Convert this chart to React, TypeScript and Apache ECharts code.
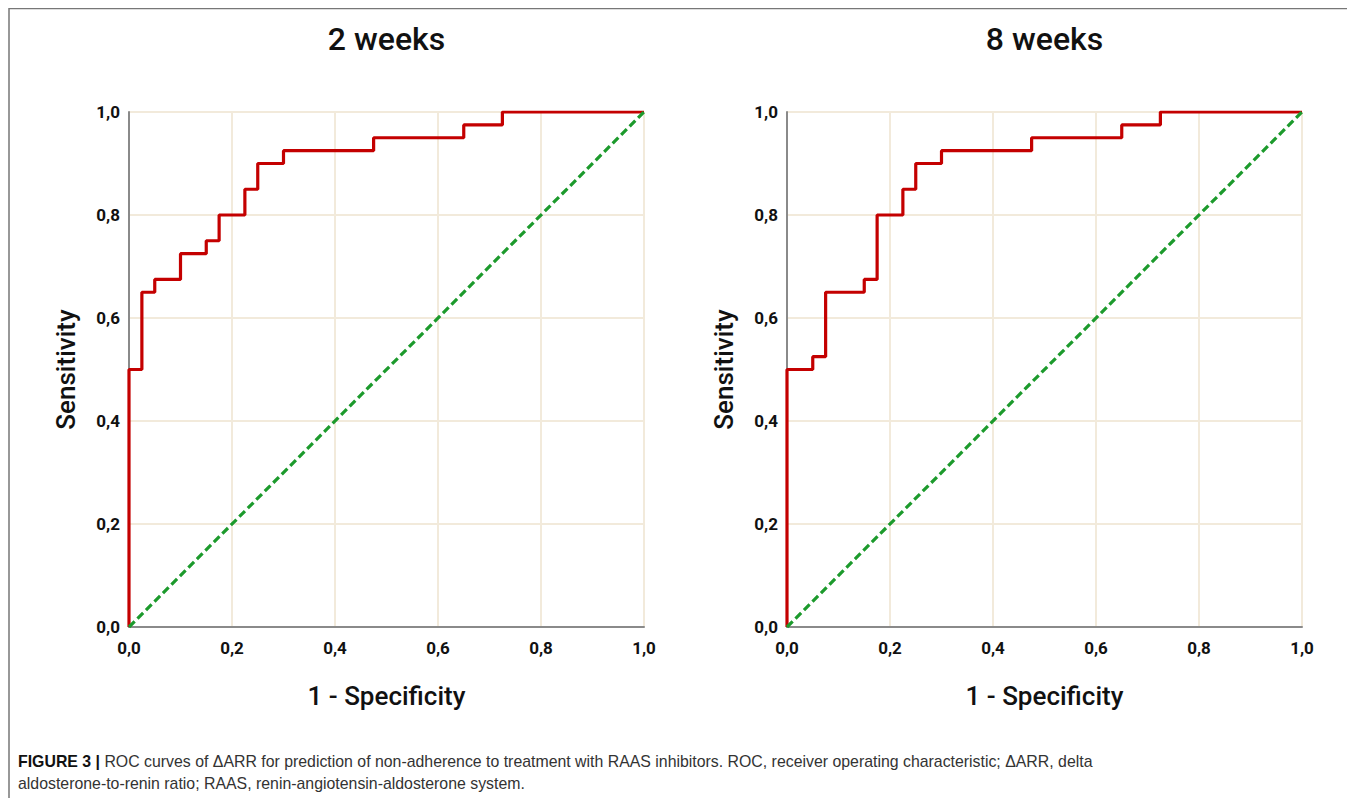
import React, { useEffect, useRef } from "react";
import * as echarts from "echarts";

const tickValues = [0, 0.2, 0.4, 0.6, 0.8, 1.0];
const panelTitles = ["2 weeks", "8 weeks"];

const fpr2w = [0, 0, 0.025, 0.025, 0.05, 0.05, 0.1, 0.1, 0.15, 0.15, 0.175, 0.175, 0.225, 0.225, 0.25, 0.25, 0.3, 0.3, 0.475, 0.475, 0.65, 0.65, 0.725, 0.725, 1];
const tpr2w = [0, 0.5, 0.5, 0.65, 0.65, 0.675, 0.675, 0.725, 0.725, 0.75, 0.75, 0.8, 0.8, 0.85, 0.85, 0.9, 0.9, 0.925, 0.925, 0.95, 0.95, 0.975, 0.975, 1, 1];

const fpr8w = [0, 0, 0.05, 0.05, 0.075, 0.075, 0.15, 0.15, 0.175, 0.175, 0.225, 0.225, 0.25, 0.25, 0.3, 0.3, 0.475, 0.475, 0.65, 0.65, 0.725, 0.725, 1];
const tpr8w = [0, 0.5, 0.5, 0.525, 0.525, 0.65, 0.65, 0.675, 0.675, 0.8, 0.8, 0.85, 0.85, 0.9, 0.9, 0.925, 0.925, 0.95, 0.95, 0.975, 0.975, 1, 1];

const refX = [0, 1];
const refY = [0, 1];

const captionBold = "FIGURE 3 |";
const captionLine1 = " ROC curves of \u0394ARR for prediction of non-adherence to treatment with RAAS inhibitors. ROC, receiver operating characteristic; \u0394ARR, delta";
const captionLine2 = "aldosterone-to-renin ratio; RAAS, renin-angiotensin-aldosterone system.";

const xName = "1 - Specificity";
const yName = "Sensitivity";

const fmt = (v: number) => v.toFixed(1).replace(".", ",");

export default function App() {
  const ref = useRef<HTMLDivElement>(null);
  useEffect(() => {
    if (!ref.current) return;
    const chart = echarts.init(ref.current, undefined, { renderer: "svg" });
    const gridLefts = [121, 779];
    const grids = gridLefts.map((l) => ({ left: l, top: 104, width: 515, height: 515 }));
    const axisCommon = {
      type: "value" as const,
      min: tickValues[0],
      max: tickValues[tickValues.length - 1],
      interval: 0.2,
      axisLine: { show: true, lineStyle: { color: "#8a8a8a", width: 2 } },
      axisTick: { show: false },
      splitLine: { show: true, lineStyle: { color: "#f2eadb", width: 2 } },
      axisLabel: {
        formatter: fmt,
        fontFamily: "Roboto",
        fontWeight: "bold" as const,
        fontSize: 17,
        color: "#111",
      },
      nameLocation: "middle" as const,
      nameTextStyle: { fontFamily: "Roboto", fontWeight: 500, fontSize: 26, color: "#111" },
    };
    const xAxis = [0, 1].map((i) => ({
      ...axisCommon,
      gridIndex: i,
      name: xName,
      nameGap: 56,
      axisLabel: { ...axisCommon.axisLabel, margin: 12 },
    }));
    const yAxis = [0, 1].map((i) => ({
      ...axisCommon,
      gridIndex: i,
      name: yName,
      nameGap: 50,
      axisLabel: { ...axisCommon.axisLabel, margin: 9 },
    }));
    const rocs = [
      [fpr2w, tpr2w],
      [fpr8w, tpr8w],
    ];
    const series: any[] = [];
    rocs.forEach(([fx, ty], i) => {
      series.push({
        type: "line",
        xAxisIndex: i,
        yAxisIndex: i,
        data: refX.map((x, k) => [x, refY[k]]),
        showSymbol: false,
        lineStyle: { color: "#1c9a2c", width: 3.2, type: [8, 4] },
        z: 3,
      });
      series.push({
        type: "line",
        xAxisIndex: i,
        yAxisIndex: i,
        data: fx.map((x, k) => [x, ty[k]]),
        showSymbol: false,
        lineStyle: { color: "#c40000", width: 3.2 },
        z: 2,
      });
    });
    chart.setOption({
      animation: false,
      grid: grids,
      xAxis,
      yAxis,
      series,
      graphic: [
        {
          type: "rect",
          shape: { x: 1, y: 0.5, width: 1344, height: 820 },
          style: { fill: "none", stroke: "#777", lineWidth: 1.5 },
          silent: true,
        },
        ...panelTitles.map((t, i) => ({
          type: "text",
          x: gridLefts[i] + 257.5,
          y: 31,
          style: {
            text: t,
            fontFamily: "Roboto",
            fontWeight: 500,
            fontSize: 32,
            fill: "#111",
            align: "center",
            verticalAlign: "middle",
          },
        })),
        {
          type: "text",
          x: 10,
          y: 753,
          scaleX: 0.933,
          style: {
            text: "{b|" + captionBold + "}" + captionLine1,
            fontFamily: "Liberation Sans",
            fontSize: 17,
            fill: "#333",
            verticalAlign: "middle",
            rich: {
              b: { fontFamily: "Liberation Sans", fontWeight: "bold", fontSize: 17, fill: "#111" },
            },
          },
        },
        {
          type: "text",
          x: 10,
          y: 775,
          scaleX: 0.933,
          style: {
            text: captionLine2,
            fontFamily: "Liberation Sans",
            fontSize: 17,
            fill: "#333",
            verticalAlign: "middle",
          },
        },
      ],
    });
    return () => chart.dispose();
  }, []);
  return <div ref={ref} style={{ width: 1347, height: 790 }} />;
}
